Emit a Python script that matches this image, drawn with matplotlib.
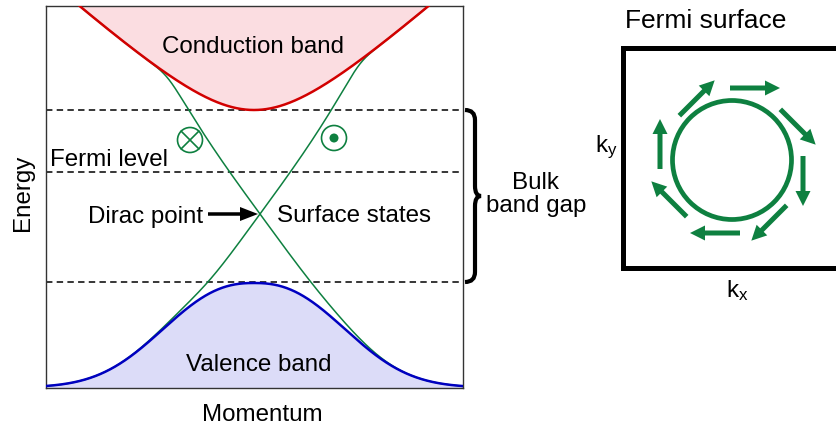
import numpy as np
import matplotlib
matplotlib.use('Agg')
import matplotlib.pyplot as plt
from matplotlib.path import Path
from matplotlib.patches import Circle, PathPatch

plt.rcParams['font.family'] = ['Liberation Sans', 'DejaVu Sans']
plt.rcParams['mathtext.fontset'] = 'custom'
plt.rcParams['mathtext.rm'] = 'Liberation Sans'
plt.rcParams['mathtext.it'] = 'Liberation Sans'

# --- band picture (energy / momentum in units of 100 px, Dirac point at E=0) ---
K_LIM = (-2.08, 2.09)
E_LIM = (-1.735, 2.08)

E_CB_MIN = 1.04      # conduction band bottom
CB_MASS = 0.665      # curvature of the hyperbolic conduction band
CB_VEL = 0.9         # asymptotic slope of conduction band
E_VB_MAX = -0.69     # valence band top
E_VB_FLOOR = -1.735
VB_WIDTH = 1.14
VB_POWER = 2.4
DIRAC_K = 0.06
SURF_VEL = 1.37
SURF_CUBIC = 0.13
E_FERMI = 0.42
GAP_LINES = [E_CB_MIN, E_FERMI, -0.68]

spin_k = [-0.64, 0.80]
spin_E = [0.74, 0.76]
spin_kind = ['in', 'out']

# --- Fermi surface panel (px units around circle centre, y up) ---
fs_radius = 59.5
arrow_x = [23, 66, 71, 37, -17, -63, -72, -35]
arrow_y = [72, 33, -21, -63, -73, -39, 16, 62]
arrow_dir = [0, -45, -90, -135, 180, 135, 90, 45]
arrow_len = 50

RED = '#d20000'
PINK = '#fbdde1'
BLUE = '#0000c0'
LAV = '#dcdcf8'
GREEN = '#0e8040'
FS = 17.4


def softmin(a, b, t):
    return -t * np.logaddexp(-a / t, -b / t)


def softmax(a, b, t):
    return t * np.logaddexp(a / t, b / t)


fig = plt.figure(figsize=(8.37, 4.28), dpi=100)
W, H = 837, 428

# left panel
ax = fig.add_axes([46 / W, (H - 387.5) / H, 417 / W, 381.5 / H])
ax.set_xlim(*K_LIM)
ax.set_ylim(*E_LIM)
ax.set_xticks([])
ax.set_yticks([])
for s in ax.spines.values():
    s.set_color('#333333')
    s.set_linewidth(1.0)

k = np.linspace(K_LIM[0], K_LIM[1], 1200)
cb = E_CB_MIN + np.sqrt(CB_MASS**2 + (CB_VEL * k)**2) - CB_MASS
vb = E_VB_FLOOR + (E_VB_MAX - E_VB_FLOOR) * np.exp(-(np.abs(k) / VB_WIDTH)**VB_POWER)
dk = k - DIRAC_K
up = softmin(SURF_VEL * np.abs(dk) * (1 + SURF_CUBIC * dk**2), cb, 0.06)
lo = softmax(-SURF_VEL * np.abs(dk), vb, 0.1)
surf_a = np.where(dk < 0, up, lo)
surf_b = np.where(dk < 0, lo, up)

ax.fill_between(k, cb, E_LIM[1] + 1, color=PINK, lw=0, zorder=1)
ax.fill_between(k, E_LIM[0] - 1, vb, color=LAV, lw=0, zorder=1)
for e in GAP_LINES:
    ax.axhline(e, color='black', lw=1.1, dashes=(4.2, 2.8), zorder=2)
ax.plot(k, surf_a, color=GREEN, lw=1.1, zorder=3)
ax.plot(k, surf_b, color=GREEN, lw=1.1, zorder=3)
ax.plot(k, cb, color=RED, lw=1.8, zorder=4)
ax.plot(k, vb, color=BLUE, lw=1.8, zorder=4)

for sk, se, kind in zip(spin_k, spin_E, spin_kind):
    ax.add_patch(Circle((sk, se), 0.125, fill=False, ec=GREEN, lw=1.2, zorder=5))
    if kind == 'in':
        d = 0.125 / np.sqrt(2)
        ax.plot([sk - d, sk + d], [se - d, se + d], color=GREEN, lw=1.2, zorder=5)
        ax.plot([sk - d, sk + d], [se + d, se - d], color=GREEN, lw=1.2, zorder=5)
    else:
        ax.add_patch(Circle((sk, se), 0.045, color=GREEN, lw=0, zorder=5))

ax.text(-0.01, 1.607, 'Conduction band', fontsize=FS, ha='center', va='baseline')
ax.text(-2.04, 0.483, 'Fermi level', fontsize=FS, ha='left', va='baseline')
ax.text(-0.51, -0.085, 'Dirac point', fontsize=FS, ha='right', va='baseline')
ax.text(0.23, -0.075, 'Surface states', fontsize=FS, ha='left', va='baseline')
ax.text(0.045, -1.567, 'Valence band', fontsize=FS, ha='center', va='baseline')
ax.text(0.085, -2.067, 'Momentum', fontsize=FS, ha='center', va='baseline', clip_on=False)
ax.text(-2.31, 0.21, 'Energy', fontsize=FS, ha='center', va='center', rotation=90, clip_on=False)
ax.arrow(-0.46, 0, 0.5, 0, width=0.035, head_width=0.14, head_length=0.18,
         length_includes_head=True, color='black', lw=0, zorder=6)

# curly brace for the bulk band gap
top, bot = GAP_LINES[0], GAP_LINES[-1]
mid = (top + bot) / 2
x0, x1, x2, r = 2.11, 2.21, 2.27, 0.1
verts = [(x0, top), (x1, top), (x1, top - r), (x1, mid + r), (x1, mid), (x2, mid),
         (x1, mid), (x1, mid - r), (x1, bot + r), (x1, bot), (x0, bot)]
codes = [Path.MOVETO, Path.CURVE3, Path.CURVE3, Path.LINETO, Path.CURVE3, Path.CURVE3,
         Path.CURVE3, Path.CURVE3, Path.LINETO, Path.CURVE3, Path.CURVE3]
ax.add_patch(PathPatch(Path(verts, codes), fill=False, lw=3.0, ec='black',
                       capstyle='butt', clip_on=False, zorder=6))
ax.text(2.82, 0.247, 'Bulk', fontsize=FS, ha='center', va='baseline', clip_on=False)
ax.text(2.82, 0.023, 'band gap', fontsize=FS, ha='center', va='baseline', clip_on=False)

# right panel: Fermi surface
bx = fig.add_axes([623.3 / W, (H - 268) / H, (870 - 623.3) / W, 220 / H])
bx.set_xlim(623.3 - 732, 870 - 732)
bx.set_ylim(160 - 268, 160 - 48)
bx.set_xticks([])
bx.set_yticks([])
for name, s in bx.spines.items():
    s.set_linewidth(3.6)
    s.set_color('black')
bx.spines['right'].set_visible(False)

bx.add_patch(Circle((0, 0), fs_radius, fill=False, ec=GREEN, lw=3.4))
for x, y, d in zip(arrow_x, arrow_y, arrow_dir):
    c, s = np.cos(np.radians(d)), np.sin(np.radians(d))
    bx.arrow(x - arrow_len / 2 * c, y - arrow_len / 2 * s, arrow_len * c, arrow_len * s,
             width=5, head_width=15, head_length=15, length_includes_head=True,
             color=GREEN, lw=0)

bx.text(-26, 160 - 28.3, 'Fermi surface', fontsize=19, ha='center', va='baseline', clip_on=False)
bx.text(-126, 8, r'k$_\mathrm{y}$', fontsize=FS, ha='center', va='baseline', clip_on=False)
bx.text(5, -137, r'k$_\mathrm{x}$', fontsize=FS, ha='center', va='baseline', clip_on=False)

fig.savefig('out.png', dpi=100)
